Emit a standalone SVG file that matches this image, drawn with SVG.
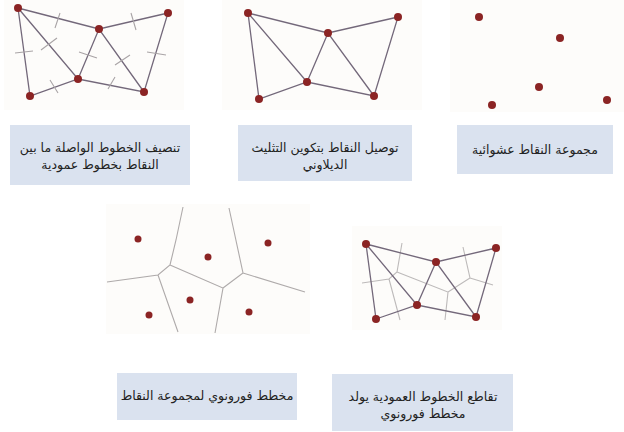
<svg xmlns="http://www.w3.org/2000/svg" width="624" height="432" viewBox="0 0 624 432">
<style>
.bg{fill:#fdfcfa}
.edge{stroke:#73687a;stroke-width:1.3;fill:none;stroke-linecap:round}
.tick{stroke:#a9a4a6;stroke-width:1.1;fill:none}
.vor{stroke:#aeaaaa;stroke-width:1.1;fill:none}
.vor2{stroke:#bdbaba;stroke-width:1.1;fill:none}
.pt{fill:#8b2424}
.box{fill:#dae2ef}
.lbl{font-family:"DejaVu Sans","Noto Sans",sans-serif;font-size:12.5px;fill:#222222;text-anchor:middle;direction:rtl}
</style>
<rect width="624" height="432" fill="#ffffff"/>
<g id="backgrounds">
<rect class="bg" x="4" y="0" width="180" height="110"/>
<rect class="bg" x="222" y="0" width="200" height="110"/>
<rect class="bg" x="450" y="0" width="174" height="112"/>
<rect class="bg" x="106" y="204" width="204" height="130"/>
<rect class="bg" x="352" y="226" width="150" height="104"/>
</g>
<g id="connectors">
<path class="edge" d="M18,8 L99,29 L168,13 L144,92 L78,79 L30,96 L18,8 L78,79 L99,29 L144,92"/>
<path class="tick" d="M55,28 L60,13 M131,13 L136,30 M15,53 L33,51 M41,50 L57,38 M79,52 L97,58 M115,65 L130,55 M147,52 L166,55 M50,80 L58,93 M108,89 L115,77"/>
<path class="edge" d="M248,13 L328,33 L398,17 L374,96 L307,82 L259,99 L248,13 L307,82 L328,33 L374,96"/>
<path class="vor" d="M183,207 L176,240 L170,265 L158,275 L107,282 M158,275 L178,332 M170,265 L223,288 L215,333 M223,288 L243,273 L229,208 M243,273 L305,292"/>
<path class="vor2" d="M402,243 L397,272 L389,279 L362,283 M389,279 L400,320 M397,272 L448,292 L445,320 M448,292 L470,278 L463,247 M470,278 L493,285"/>
<path class="edge" d="M366,244 L436,262 L496,248 L476,317 L417,305 L376,319 L366,244 L417,305 L436,262 L476,317"/>
</g>
<g id="points-random">
<circle class="pt" cx="479" cy="17" r="4"/>
<circle class="pt" cx="560" cy="38" r="4"/>
<circle class="pt" cx="539" cy="87" r="4"/>
<circle class="pt" cx="492" cy="105" r="4"/>
<circle class="pt" cx="607" cy="100" r="4"/>
</g>
<g id="points-delaunay">
<circle class="pt" cx="248" cy="13" r="4"/>
<circle class="pt" cx="328" cy="33" r="4"/>
<circle class="pt" cx="398" cy="17" r="4"/>
<circle class="pt" cx="307" cy="82" r="4"/>
<circle class="pt" cx="259" cy="99" r="4"/>
<circle class="pt" cx="374" cy="96" r="4"/>
</g>
<g id="points-bisect">
<circle class="pt" cx="18" cy="8" r="4"/>
<circle class="pt" cx="99" cy="29" r="4"/>
<circle class="pt" cx="168" cy="13" r="4"/>
<circle class="pt" cx="78" cy="79" r="4"/>
<circle class="pt" cx="30" cy="96" r="4"/>
<circle class="pt" cx="144" cy="92" r="4"/>
</g>
<g id="points-voronoi">
<circle class="pt" cx="138" cy="239" r="3.5"/>
<circle class="pt" cx="208" cy="257" r="3.5"/>
<circle class="pt" cx="268" cy="243" r="3.5"/>
<circle class="pt" cx="190" cy="300" r="3.5"/>
<circle class="pt" cx="149" cy="315" r="3.5"/>
<circle class="pt" cx="249" cy="312" r="3.5"/>
</g>
<g id="points-combined">
<circle class="pt" cx="366" cy="244" r="4"/>
<circle class="pt" cx="436" cy="262" r="4"/>
<circle class="pt" cx="496" cy="248" r="4"/>
<circle class="pt" cx="417" cy="305" r="4"/>
<circle class="pt" cx="376" cy="319" r="4"/>
<circle class="pt" cx="476" cy="317" r="4"/>
</g>
<g id="label-bisect">
<rect class="box" x="10" y="125" width="180" height="60"/>
<text class="lbl" x="100" y="152">تنصيف الخطوط الواصلة ما بين</text>
<text class="lbl" x="100" y="169">النقاط بخطوط عمودية</text>
</g>
<g id="label-delaunay">
<rect class="box" x="238" y="125" width="174" height="56"/>
<text class="lbl" x="325" y="152">توصيل النقاط بتكوين التثليث</text>
<text class="lbl" x="325" y="169">الديلاوني</text>
</g>
<g id="label-random">
<rect class="box" x="457" y="125" width="156" height="49"/>
<text class="lbl" x="535" y="154">مجموعة النقاط عشوائية</text>
</g>
<g id="label-voronoi">
<rect class="box" x="117" y="373" width="180" height="47"/>
<text class="lbl" x="207" y="400">مخطط فورونوي لمجموعة النقاط</text>
</g>
<g id="label-combined">
<rect class="box" x="332" y="374" width="181" height="57"/>
<text class="lbl" x="423" y="401">تقاطع الخطوط العمودية يولد</text>
<text class="lbl" x="423" y="418">مخطط فورونوي</text>
</g>
</svg>
